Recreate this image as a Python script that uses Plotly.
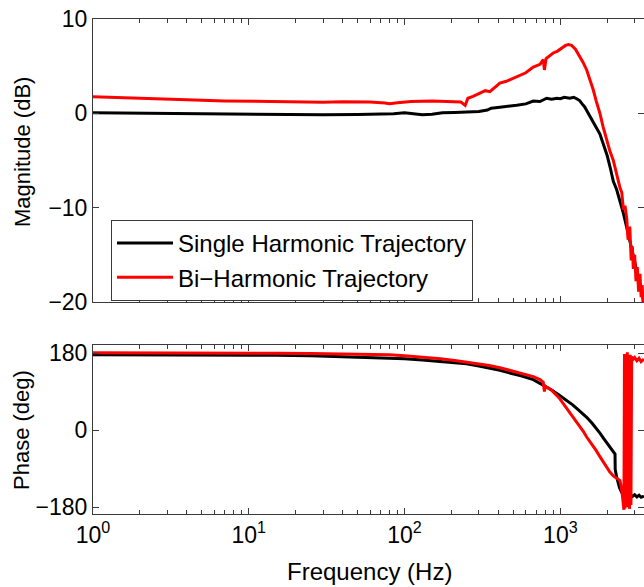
import plotly.graph_objects as go

# ---------------- data ----------------
f_mag_single = [1, 1.5, 2, 3, 5, 8, 12, 20, 30, 50,
                70, 85, 100, 115, 130, 150, 175, 210, 250, 300,
                340, 360, 409, 450, 525, 600, 670, 740, 817, 880,
                950, 1000, 1060, 1150, 1220, 1273, 1330, 1380, 1430, 1476,
                1540, 1600, 1700, 1795, 1900, 2000, 2100, 2188, 2300, 2415,
                2540, 2667, 2800, 2950, 3100, 3250, 3443]
mag_single = [0.05, 0.03, 0.0, -0.04, -0.08, -0.12, -0.14, -0.14, -0.15, -0.13,
              -0.12, -0.05, 0.05, -0.05, -0.15, -0.1, 0.05, 0.1, 0.12, 0.2,
              0.35, 0.55, 0.65, 0.7, 0.85, 1.0, 1.3, 1.25, 1.6, 1.5,
              1.6, 1.55, 1.7, 1.6, 1.7, 1.55, 1.35, 1.0, 0.7, 0.3,
              -0.2, -0.8, -1.5, -2.2, -3.3, -4.5, -5.9, -7.2, -8.1, -9.3,
              -10.6, -12.1, -13.5, -15.2, -16.8, -18.3, -20.0]

f_mag_bi = [1, 1.5, 2, 3, 4, 7, 10, 15, 20, 30,
            40, 60, 75, 80, 90, 110, 150, 200, 230, 245,
            255, 275, 300, 330, 353, 409, 450, 525, 600, 670,
            740, 777, 790, 810, 860, 900, 960, 1020, 1080, 1125,
            1180, 1250, 1336, 1400, 1476, 1550, 1626, 1700, 1795, 1880,
            1982, 2080, 2188, 2300, 2415, 2480, 2540, 2600, 2667, 2720,
            2790, 2850, 2900, 2940, 3000, 3060, 3120, 3180, 3245, 3300,
            3350, 3400, 3443]
mag_bi = [1.75, 1.68, 1.6, 1.52, 1.45, 1.32, 1.27, 1.22, 1.2, 1.18,
          1.22, 1.2, 1.1, 1.03, 1.12, 1.25, 1.3, 1.25, 1.2, 0.85,
          1.6, 1.8, 2.1, 2.4, 2.3, 3.2, 3.4, 3.9, 4.3, 4.9,
          5.2, 5.7, 4.6, 5.8, 6.1, 6.4, 6.6, 6.9, 7.2, 7.3,
          7.2, 6.8, 6.0, 5.4, 4.6, 3.6, 2.5, 1.3, 0.0, -1.4,
          -2.9, -4.0, -5.0, -6.5, -7.9, -8.4, -10.2, -9.8, -11.1, -13.4,
          -12.0, -15.6, -14.1, -16.5, -15.0, -17.8, -16.3, -18.9, -17.0, -19.5,
          -18.2, -20.5, -19.8]

f_ph_single = [1, 2, 4, 8, 15, 25, 40, 60, 80, 100,
               130, 170, 210, 250, 300, 350, 409, 480, 560, 670,
               777, 880, 980, 1097, 1200, 1300, 1400, 1476, 1600, 1700,
               1795, 1900, 2000, 2080, 2135, 2200, 2244, 2250, 2300, 2400,
               2500, 2600, 2700, 2800, 2900, 3000, 3100, 3200, 3300, 3443]
ph_single = [176, 176, 175.5, 175.3, 175, 174, 172, 170.5, 169, 167,
             164, 160, 157, 155, 150, 145, 140, 133, 127, 118,
             105, 94, 82, 70, 59, 48, 38, 30, 16, 5,
             -7, -20, -32, -40, -45, -52, -56, -92, -110, -135,
             -148, -150, -153, -149, -155, -151, -156, -152, -157, -154]

f_ph_bi = [1, 2, 4, 8, 15, 25, 40, 60, 80, 100,
           130, 170, 210, 250, 300, 350, 409, 480, 560, 670,
           740, 777, 790, 800, 820, 880, 980, 1097, 1200, 1300,
           1400, 1476, 1600, 1700, 1795, 1900, 2000, 2080, 2188, 2300,
           2415, 2480, 2530, 2560, 2580, 2600, 2630, 2660, 2690, 2720,
           2750, 2780, 2810, 2840, 2870, 2920, 3000, 3100, 3200, 3300,
           3443]
ph_bi = [181, 181, 180.5, 180, 179.5, 179, 178, 177, 176, 174,
         171, 167, 163, 159, 155, 151, 146, 139, 133, 125,
         118, 112, 90, 103, 100, 93, 76, 51, 34, 15,
         -2, -16, -33, -48, -62, -76, -89, -98, -107, -112,
         -118, -140, -165, -186, 178, -183, 175, -180, 182, -178,
         170, -184, 176, -175, 172, 165, 170, 162, 168, 160,
         166]

series_names = ["Single Harmonic Trajectory", "Bi\u2212Harmonic Trajectory"]
series_colors = ["#000000", "#ff0000"]

x_major = [1, 10, 100, 1000]
x_major_text = ["10<sup>0</sup>", "10<sup>1</sup>", "10<sup>2</sup>", "10<sup>3</sup>"]
x_minor = [m * d for d in [1, 10, 100, 1000] for m in range(2, 10) if m * d < 3500]
mag_ticks = [-20, -10, 0, 10]
phase_ticks = [-180, 0, 180]

# ---------------- figure ----------------
W, H = 644, 587
ml, mr, mt, mb = 93, 0, 19, 73
ph = H - mt - mb

def ydom(top_px, bot_px):
    return [(H - mb - bot_px) / ph, (H - mb - top_px) / ph]

fig = go.Figure()
fig.add_trace(go.Scatter(x=f_mag_single, y=mag_single, mode="lines", name=series_names[0],
                         line=dict(color=series_colors[0], width=3), xaxis="x", yaxis="y"))
fig.add_trace(go.Scatter(x=f_mag_bi, y=mag_bi, mode="lines", name=series_names[1],
                         line=dict(color=series_colors[1], width=3), xaxis="x", yaxis="y"))
fig.add_trace(go.Scatter(x=f_ph_single, y=ph_single, mode="lines", showlegend=False,
                         line=dict(color=series_colors[0], width=3), xaxis="x2", yaxis="y2"))
fig.add_trace(go.Scatter(x=f_ph_bi, y=ph_bi, mode="lines", showlegend=False,
                         line=dict(color=series_colors[1], width=3), xaxis="x2", yaxis="y2"))

axcol = "#3a3a3a"
tickfont = dict(family="Liberation Sans, Arial, sans-serif", size=23, color="black")
common_x = dict(type="log", range=[0, 3.537], showgrid=False, zeroline=False,
                showline=True, linecolor=axcol, linewidth=1, mirror="allticks",
                ticks="inside", ticklen=6, tickcolor=axcol, tickvals=x_major,
                minor=dict(tickvals=x_minor, ticks="inside", ticklen=4, tickcolor=axcol))
common_y = dict(showgrid=False, zeroline=False, showline=True, linecolor=axcol, linewidth=1,
                mirror="allticks", ticks="inside", ticklen=6, tickcolor=axcol,
                tickfont=tickfont)

fig.update_layout(
    width=W, height=H,
    margin=dict(l=ml, r=mr, t=mt, b=mb),
    paper_bgcolor="white", plot_bgcolor="white",
    font=dict(family="Liberation Sans, Arial, sans-serif", color="black"),
    xaxis=dict(common_x, domain=[0, 1], anchor="y", showticklabels=False),
    xaxis2=dict(common_x, domain=[0, 1], anchor="y2", ticktext=x_major_text,
                tickfont=tickfont),
    yaxis=dict(common_y, domain=ydom(19, 302), anchor="x", range=[-20, 10],
               tickvals=mag_ticks),
    yaxis2=dict(common_y, domain=ydom(345, 514), anchor="x2", range=[-196, 199],
                tickvals=phase_ticks),
    legend=dict(x=(111 - ml) / (W - ml - mr), y=(H - mb - 220) / ph,
                xanchor="left", yanchor="top",
                bgcolor="white", bordercolor=axcol, borderwidth=1,
                font=dict(size=24, color="black"), itemwidth=56,
                tracegroupgap=0),
    showlegend=True,
)

def px_x(p):
    return (p - ml) / (W - ml - mr)

def px_y(p):
    return (H - mb - p) / ph

fig.add_annotation(text="Magnitude (dB)", x=px_x(23), y=px_y(152), xref="paper", yref="paper",
                   textangle=-90, showarrow=False, xanchor="center", yanchor="middle",
                   font=dict(size=22, color="black"))
fig.add_annotation(text="Phase (deg)", x=px_x(21), y=px_y(430), xref="paper", yref="paper",
                   textangle=-90, showarrow=False, xanchor="center", yanchor="middle",
                   font=dict(size=22, color="black"))
fig.add_annotation(text="Frequency (Hz)", x=px_x(369), y=px_y(571), xref="paper", yref="paper",
                   showarrow=False, xanchor="center", yanchor="middle",
                   font=dict(size=24, color="black"))

fig.write_html("out.html")
